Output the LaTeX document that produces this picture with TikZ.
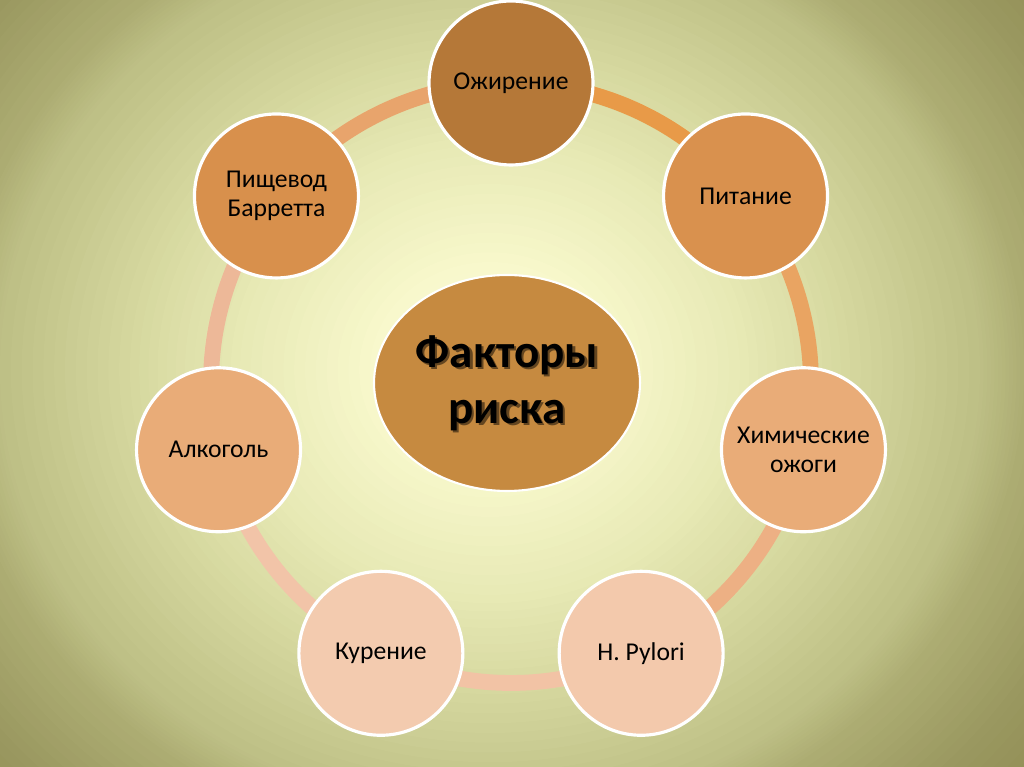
\documentclass[tikz,border=0pt]{standalone}
\usepackage{fontspec}
\setmainfont{Carlito}
\usetikzlibrary{calc,shapes.geometric}
\definecolor{gA}{HTML}{8E8A50}
\definecolor{gB}{HTML}{9A9860}
\definecolor{gC}{HTML}{AEAE74}
\definecolor{gD}{HTML}{BEC086}
\definecolor{gE}{HTML}{D6D89F}
\definecolor{gF}{HTML}{E8EAB6}
\definecolor{gG}{HTML}{F8F8CC}
\definecolor{gH}{HTML}{FCFCDA}
\definecolor{cA}{HTML}{B57838}
\definecolor{cB}{HTML}{D9914E}
\definecolor{cC}{HTML}{E9AC78}
\definecolor{cD}{HTML}{F3C9AC}
\definecolor{cE}{HTML}{F3CBAF}
\definecolor{cF}{HTML}{E9AC78}
\definecolor{cG}{HTML}{D8904C}
\definecolor{cM}{HTML}{C68A40}
\definecolor{rA}{HTML}{E89A48}
\definecolor{rB}{HTML}{E9A462}
\definecolor{rC}{HTML}{EDB084}
\definecolor{rD}{HTML}{F2C3A5}
\definecolor{rE}{HTML}{F2C4A8}
\definecolor{rF}{HTML}{EDB898}
\definecolor{rG}{HTML}{E8A46C}
\newcommand\shadowtext[1]{\leavevmode\rlap{\hspace{1.3pt}\raisebox{-1.3pt}[0pt][0pt]{\color{cM!50!black}#1}}#1}
\begin{document}
\begin{tikzpicture}[x=0.02cm,y=0.02cm,
  factor/.style={circle, draw=white, line width=1.8pt, minimum size=3.28cm, inner sep=0pt,
    align=center, font=\fontsize{14.6}{16.5}\selectfont, text=black},
  ringseg/.style={line width=9pt},
  centre/.style={ellipse, draw=white, line width=1.2pt, fill=cM, minimum width=5.32cm, minimum height=4.32cm, inner sep=0pt},
  bigtext/.style={align=center, font=\bfseries\fontsize{26.8}{32}\selectfont}]
\useasboundingbox (0,0) rectangle (1024,767);
% background radial gradient
\coordinate (G) at (490,397);
\foreach \ra/\rb/\ca/\cb in {760/640/gA/gB, 640/534/gB/gC, 534/490/gC/gD, 490/360/gD/gE, 360/250/gE/gF, 250/120/gF/gG, 120/0/gG/gH}{
  \foreach \k in {0,...,11}{
    \pgfmathsetmacro\rr{\ra-(\ra-\rb)*\k/12}
    \pgfmathsetmacro\pp{100*\k/12}
    \fill[\cb!\pp!\ca] (G) ellipse [x radius=\rr, y radius=0.9*\rr];
  }
}
\coordinate (O) at (511,384);
% ring segments
\foreach \a/\b/\c in {90/38.57/rA, 38.57/-12.86/rB, -12.86/-64.29/rC, -64.29/-115.71/rD, -115.71/-167.14/rE, -167.14/-218.57/rF, -218.57/-270/rG}{
  \draw[ringseg, \c] ($(O)+(\a:300)$) arc[start angle=\a, end angle=\b, radius=300];
}
\node[factor, fill=cA] (f1) at ($(O)+(90:300)$) {Ожирение};
\node[factor, fill=cB] (f2) at ($(O)+(38.57:300)$) {Питание};
\node[factor, fill=cC] (f3) at ($(O)+(-12.86:300)$) {Химические\\ожоги};
\node[factor, fill=cD] (f4) at ($(O)+(-64.29:300)$) {H. Pylori};
\node[factor, fill=cE] (f5) at ($(O)+(-115.71:300)$) {Курение};
\node[factor, fill=cF] (f6) at ($(O)+(-167.14:300)$) {Алкоголь};
\node[factor, fill=cG] (f7) at ($(O)+(141.43:300)$) {Пищевод\\Барретта};
\node[centre] (c) at (507,384) {};
\node[bigtext, text=black] (ct) at (c.center) {\shadowtext{Факторы}\\\shadowtext{риска}};
\end{tikzpicture}
\end{document}
